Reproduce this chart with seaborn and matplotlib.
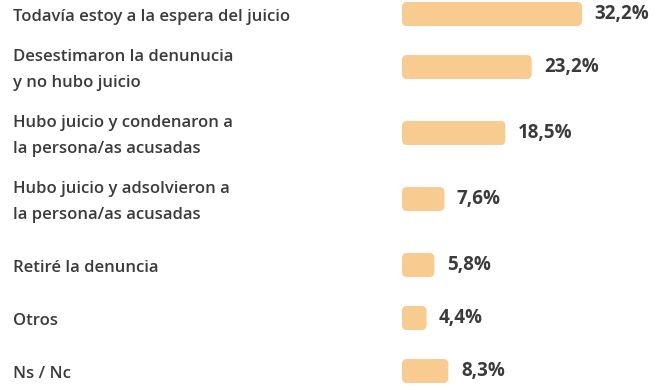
import matplotlib
matplotlib.use("Agg")
import matplotlib.pyplot as plt
import matplotlib.transforms as mtransforms
from matplotlib.patches import FancyBboxPatch
import pandas as pd
import seaborn as sns

categories = [
    "Todavía estoy a la espera del juicio",
    "Desestimaron la denunucia\ny no hubo juicio",
    "Hubo juicio y condenaron a\nla persona/as acusadas",
    "Hubo juicio y adsolvieron a\nla persona/as acusadas",
    "Retiré la denuncia",
    "Otros",
    "Ns / Nc",
]
values = [32.2, 23.2, 18.5, 7.6, 5.8, 4.4, 8.3]
value_labels = ["32,2%", "23,2%", "18,5%", "7,6%", "5,8%", "4,4%", "8,3%"]

BAR_COLOR = "#F8CB91"
TEXT_COLOR = "#3B3B3B"
FONT = ["Open Sans", "DejaVu Sans"]

W, H, DPI = 669, 388, 100
PX_PER_PCT = 5.59          # horizontal scale of the bars
BAR_LEFT = 402             # px where bars start
BAR_H = 24                 # bar thickness in px
RADIUS = 5                 # corner radius in px

# Row centres (in px from the top): each row is taller when its label wraps
centers = []
y = 17
for i, cat in enumerate(categories):
    centers.append(y)
    y += 40 + 13 * (cat.count("\n") + 1)

df = pd.DataFrame({"categoria": categories, "valor": values,
                   "fila": [c - 3 for c in centers]})

sns.set_theme(style="white")
plt.rcParams["font.family"] = FONT

fig = plt.figure(figsize=(W / DPI, H / DPI), dpi=DPI)
ax = fig.add_axes([BAR_LEFT / W, 0, (W - BAR_LEFT) / W, 1])

min_gap = min(b - a for a, b in zip(centers, centers[1:]))
sns.barplot(data=df, x="valor", y="fila", orient="h", native_scale=True,
            width=BAR_H / min_gap, color=BAR_COLOR, saturation=1,
            errorbar=None, ax=ax)

ax.set_xlim(0, (W - BAR_LEFT) / PX_PER_PCT)
ax.set_ylim(H, 0)
ax.axis("off")

# Swap the square bars for rounded ones
for p in list(ax.patches):
    x0, y0, w, h = p.get_x(), p.get_y(), p.get_width(), p.get_height()
    p.remove()
    ax.add_patch(FancyBboxPatch(
        (x0, y0), w, h,
        boxstyle=f"round,pad=0,rounding_size={RADIUS / PX_PER_PCT}",
        mutation_aspect=PX_PER_PCT,
        facecolor=BAR_COLOR, edgecolor="none"))

# Category labels on the left
trans = mtransforms.blended_transform_factory(fig.transFigure, ax.transData)
for cat, c in zip(categories, centers):
    ax.text(13 / W, c, cat, transform=trans, ha="left", va="center",
            fontsize=12, fontweight="semibold", color=TEXT_COLOR,
            linespacing=1.8)

# Value labels to the right of each bar
for v, lab, c in zip(values, value_labels, df["fila"]):
    ax.annotate(lab, (v, c), xytext=(9, 0), textcoords="offset points",
                ha="left", va="center", fontsize=13.5, fontweight="bold",
                color=TEXT_COLOR)

fig.savefig("out.png", dpi=DPI)
